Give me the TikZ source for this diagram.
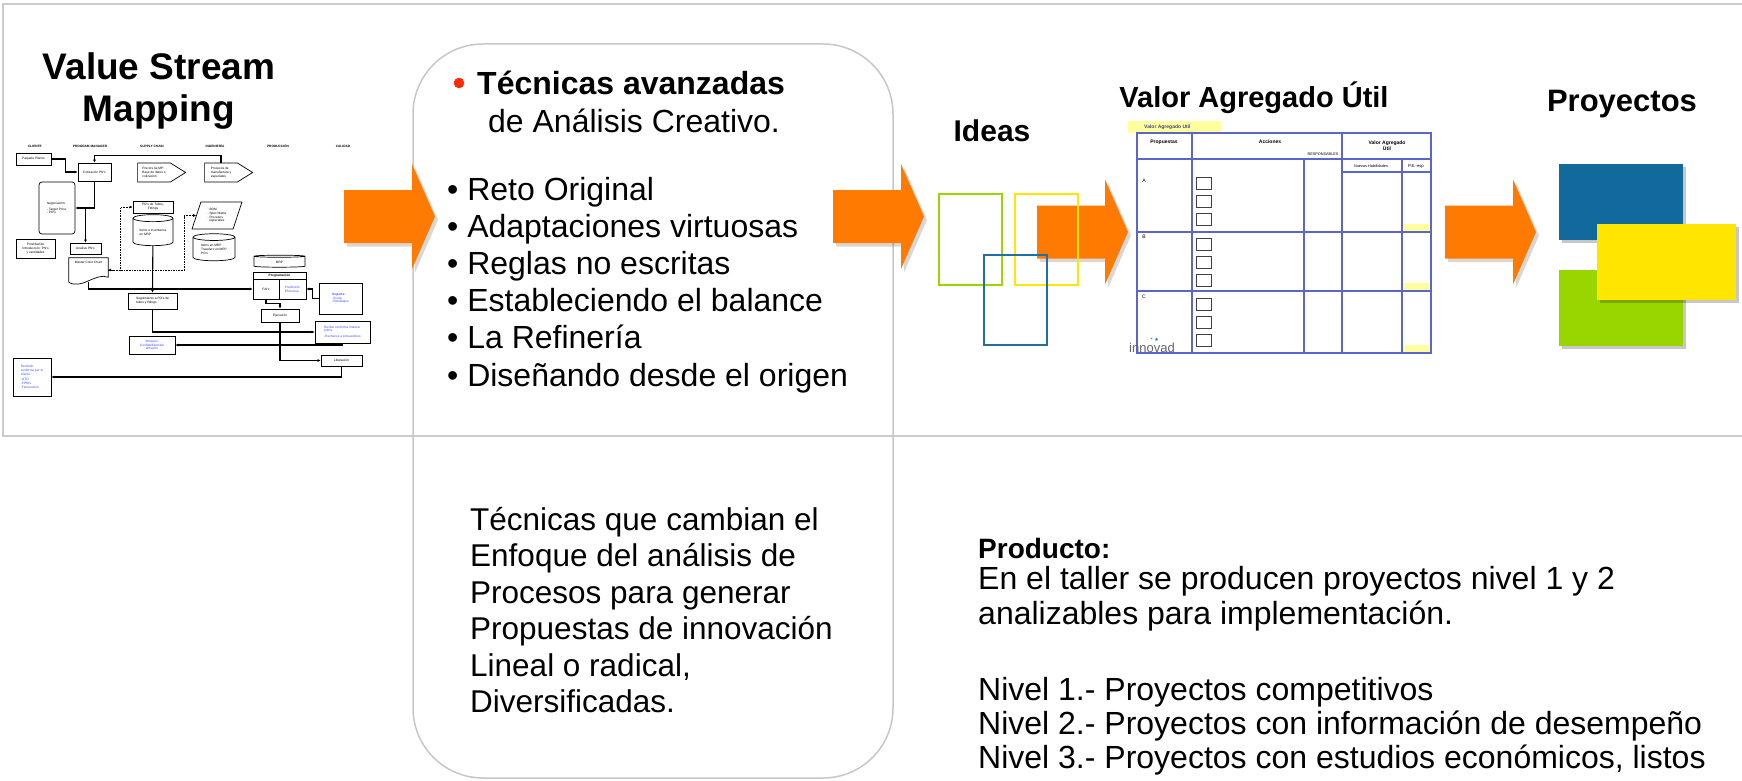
\documentclass[tikz,border=0pt]{standalone}
\usepackage{fontspec}
\setmainfont{Liberation Sans}
\newfontfamily\simbolos{DejaVu Sans}
\usepackage{tikz}
\usetikzlibrary{arrows.meta, calc, positioning, shapes.geometric, shapes.symbols}
\tikzset{>=stealth}
\usepackage{xcolor}
\definecolor{naranja}{HTML}{FF7A00}
\definecolor{azulproy}{HTML}{11699C}
\definecolor{verdeproy}{HTML}{99D600}
\definecolor{amarilloproy}{HTML}{FFE600}
\definecolor{azulidea}{HTML}{1F6FA3}
\definecolor{azultabla}{HTML}{5A66C8}
\definecolor{amarillotabla}{HTML}{FFFF9E}
\definecolor{azultexto}{HTML}{3D4DFF}
\definecolor{rojobala}{HTML}{FF2A00}

\newcommand{\textogrande}{\fontsize{32}{37}\selectfont}
\newcommand{\textomedio}{\fontsize{31.5}{37}\selectfont}
\newcommand{\textovsm}{\fontsize{3.2}{3.7}\selectfont}
\newcommand{\textotabla}{\fontsize{5}{6}\selectfont}

\tikzset{
  marcogris/.style={draw=black!20, line width=2pt},
  cajaredonda/.style={draw=black!22, line width=1.5pt, fill=white, rounded corners=70pt},
  texto/.style={font=\textogrande, inner sep=0pt, anchor=base west},
  titulo/.style={font=\fontsize{37}{42}\selectfont\bfseries, inner sep=0pt, anchor=base},
  subtitulo/.style={font=\fontsize{30}{36}\selectfont\bfseries, inner sep=0pt, anchor=base},
  vsmcaja/.style={draw, line width=0.7pt, inner sep=0.6pt, font=\textovsm, align=left},
  vsmazul/.style={vsmcaja, text=azultexto},
  vsmcabecera/.style={font=\textovsm\bfseries, inner sep=0pt},
  vsmflecha/.style={line width=1.1pt, >={Latex[length=3pt,width=3pt]}, ->},
  vsmpunteada/.style={line width=1pt, dash pattern=on 1.6pt off 1pt, >={Latex[length=3pt,width=3pt]}},
  lineatabla/.style={draw=azultabla, line width=1.3pt},
  casilla/.style={draw=black!75, line width=1pt},
  idea/.style={line width=2pt},
  pics/flecha/.style={code={
    \fill[black!60!brown, opacity=0.2] (3,3.5) ++(0,-26.5) -- ++(68,0) -- ++(0,-26) -- ++(23,52.5) -- ++(-23,52.5) -- ++(0,-26) -- ++(-68,0) -- cycle;
    \fill[naranja] (0,-26.5) -- ++(68,0) -- ++(0,-26) -- ++(23,52.5) -- ++(-23,52.5) -- ++(0,-26) -- ++(-68,0) -- cycle;
  }}
}

\begin{document}
\begin{tikzpicture}[x=1pt, y=-1pt]
\useasboundingbox (0,0) rectangle (1742,781);
\fill[white] (0,0) rectangle (1742,781);

% caja central y marco
\draw[cajaredonda] (413,44) rectangle (893,778);
\draw[marcogris] (1746,4) -- (3,4) -- (3,436) -- (1746,436);

% titulos
\node[titulo] (vsm1) at (159,80) {Value Stream};
\node[titulo] (vsm2) at (159,122) {Mapping};
\node[subtitulo] (ideas) at (992,142) {Ideas};
\node[subtitulo, font=\fontsize{29}{34}\selectfont\bfseries] (valor) at (1254,108) {Valor Agregado Útil};
\node[subtitulo, font=\fontsize{31}{36}\selectfont\bfseries] (proyectos) at (1622,112) {Proyectos};

% mapa de flujo en miniatura
\foreach \px/\etq [count=\i] in {35/CLIENTE, 90/PROGRAM MANAGER, 152/SUPPLY CHAIN, 215/INGENIERÍA, 278/PRODUCCIÓN, 343/CALIDAD}
  \node[vsmcabecera] (cab\i) at (\px,146) {\etq};
\node[vsmcaja, minimum width=35, minimum height=12] (vpaquete) at (33.5,159) {Paquete Planos};
\node[vsmcaja, minimum width=33, minimum height=18] (vcotiz) at (94.5,172) {Cotización PN's};
\node[vsmcaja, signal, signal to=east, signal pointer angle=64, minimum width=48, minimum height=19] (vprecios) at (154,172.5) {Precios de MP:\\Base de datos o\\cotización};
\node[vsmcaja, signal, signal to=east, signal pointer angle=64, minimum width=48, minimum height=19] (vprocesos) at (221,172.5) {Procesos de\\manufactura y\\especiales};
\node[vsmcaja, rounded corners=3pt, minimum width=36, minimum height=52] (vnegoc) at (57,208) {Negociación:\\[2pt]- Target Price.\\- PO's};
\node[vsmcaja, align=center, minimum width=40, minimum height=12] (vpotubos) at (153,207) {PO's de Tubos,\\Fittings};
\node[vsmcaja, cylinder, shape border rotate=90, aspect=0.25, minimum width=40, minimum height=31] (vitems) at (153,232.5) {Items e inventarios\\en MRP};
\node[vsmcaja, trapezium, trapezium left angle=70, trapezium right angle=110, trapezium stretches=true, minimum width=50, minimum height=27] (vbom) at (217,215.5) {- BOM\\- Spec Matrix\\- Procesos\\\ \ especiales};
\node[vsmcaja, cylinder, shape border rotate=90, aspect=0.25, minimum width=42, minimum height=27] (vitemsmrp) at (214,249.5) {Items en MRP\\Travelers en MRP\\PO's};
\node[vsmcaja, align=center, minimum width=39, minimum height=19] (vprioridad) at (35.5,248.5) {Prioridad de\\Introducción: PN's\\y cantidades};
\node[vsmcaja, minimum width=31, minimum height=11] (vanalisis) at (85.5,248.5) {Análisis PN's};
\node[font=\textovsm, inner sep=0.6pt, minimum width=39, minimum height=24, text depth=15pt] (vmaster) at (88.5,270) {Master Color Chart};
\draw[line width=0.7pt] (vmaster.south west) -- (vmaster.north west) -- (vmaster.north east) -- ($(vmaster.south east)+(0,-5)$) .. controls +(-13,-5) and +(13,8) .. (vmaster.south west);
\node[vsmcaja, cylinder, shape border rotate=90, aspect=0.25, minimum width=51, minimum height=12, align=center] (vmrp) at (279.5,262) {MRP};
\node[vsmcaja, font=\textovsm\bfseries, align=center, minimum width=53, minimum height=7] (vprog) at (279.5,275.5) {Programación};
\node[vsmcaja, minimum width=26, minimum height=20] (vfai) at (266,289) {FAI's};
\node[vsmazul, minimum width=27, minimum height=20] (vpred) at (292.5,289) {Predicción\\Eficiencia};
\node[vsmazul, minimum width=43, minimum height=31] (vsoporte) at (340.5,298.5) {\textbf{Soporte:}\\-Scrap\\-Retrabajos};
\node[vsmcaja, minimum width=49, minimum height=16] (vseguim) at (152.5,301) {Seguimiento a PO's de\\tubos y fittings};
\node[vsmcaja, minimum width=38, minimum height=13] (vejec) at (280,315.5) {Ejecución};
\node[vsmazul, minimum width=55, minimum height=22] (vrecibe) at (342.5,332) {Recibe conforme materia\\prima\\[2pt]-Rechazos a proveedores};
\node[vsmazul, align=center, minimum width=46, minimum height=18] (valmacen) at (152,345) {Almacén:\\Confiabilidad del\\almacén};
\node[vsmcaja, minimum width=41, minimum height=11] (vliber) at (341.5,360.5) {Liberación};
\node[vsmazul, minimum width=38, minimum height=38] (vrecibido) at (32,377) {Recibido\\conforme por el\\cliente:\\[2pt]-OTD\\-PPM's\\-Facturación};

\draw[vsmflecha] (vpaquete.east) -- ++(14,0) |- (vcotiz.west);
\draw[vsmflecha] (vprocesos.north) -- ++(0,-7) -| (vcotiz.north);
\draw[vsmflecha] (vcotiz.south) |- (vnegoc.east);
\draw[vsmflecha] ($(vcotiz.south)+(0,27)$) -| (vanalisis.north);
\draw[vsmpunteada, <->] (vmaster.east) -- ++(12,0) |- (vpotubos.west);
\draw[vsmpunteada, ->] (vmaster.east) -| ($(vbom.west)+(-12,0)$) -- (vbom.west);
\draw[vsmflecha] (vitems) -- (vseguim.north);
\draw[vsmflecha] (vmaster.south) |- (vfai.west);
\draw[vsmflecha] (vseguim.south) |- (vrecibe.west);
\draw[vsmflecha] (vrecibe.south) |- (valmacen.east);
\draw[vsmflecha] (vfai.south) -- ++(0,4) -| (vejec.north);
\draw[vsmflecha] (vsoporte.west) -- ++(-6,0) |- (vpred.east);
\draw[vsmflecha] (vejec.south) |- (vliber.west);
\draw[vsmflecha] (vliber.south) |- (vrecibido.east);

% flechas naranjas
\pic at (344,216.5) {flecha};
\pic at (833,216.5) {flecha};
\pic at (1037,232) {flecha};
\pic at (1445,232) {flecha};

% texto de la caja central
\fill[rojobala] (459,83) circle (5.3);
\node[texto, font=\textogrande\bfseries] (tecnicas) at (477,95) {Técnicas avanzadas};
\node[texto] (creativo) at (488,132) {de Análisis Creativo.};
\foreach \txt [count=\i] in {Reto Original, Adaptaciones virtuosas, Reglas no escritas, Estableciendo el balance, La Refinería, Diseñando desde el origen}
  \node[texto] (tec\i) at (447,200+37.2*\i-37.2) {• \txt};
\foreach \txt [count=\i] in {Técnicas que cambian el, Enfoque del análisis de, Procesos para generar, Propuestas de innovación, {Lineal o radical,}, Diversificadas.}
  \node[texto, font=\textomedio] (desc\i) at (470,530+36.5*\i-36.5) {\txt};

% ideas
\draw[idea, verdeproy] (939,194) rectangle (1002,285);
\draw[idea, amarilloproy] (1015,194) rectangle (1078,285);
\draw[idea, azulidea] (984,255) rectangle (1047,345);

% tabla de valor agregado
\fill[amarillotabla] (1128,121) rectangle (1221,133);
\node[font=\textotabla\bfseries, text=azultabla!70!black, anchor=west, inner sep=0pt] (etiqueta) at (1144,127) {Valor Agregado Util};
\foreach \y in {224,283,345}
  \fill[amarillotabla] (1402,\y) rectangle (1431,\y+8);
\draw[lineatabla] (1137,133) rectangle (1431,353);
\draw[lineatabla] (1137,159) -- (1431,159) (1137,232) -- (1431,232) (1137,291) -- (1431,291) (1342,172) -- (1431,172);
\draw[lineatabla] (1192,133) -- (1192,353) (1342,133) -- (1342,353) (1304,159) -- (1304,353) (1402,159) -- (1402,353);
\node[font=\textotabla\bfseries] (propuestas) at (1164,142) {Propuestas};
\node[font=\textotabla\bfseries] (acciones) at (1270,142) {Acciones};
\node[font=\fontsize{3.8}{4}\selectfont] (responsables) at (1323,154) {RESPONSABLES};
\node[font=\textotabla\bfseries, align=center] (vautil) at (1387,146) {Valor Agregado\\Útil};
\node[font=\fontsize{3.8}{4}\selectfont] (habilidades) at (1371,166) {Nuevas Habilidades};
\node[font=\fontsize{4.2}{5}\selectfont] (peesp) at (1416,166) {P.E.-esp};
\foreach \y/\letra in {181/A, 237/B, 297/C}
  \node[font=\textotabla] (fila\letra) at (1144,\y) {\letra};
\foreach \y in {177,238,298}
  \foreach \d in {0,18,36}
    \draw[casilla] (1196,\y+\d) rectangle ++(15,12);
\node[font=\fontsize{13}{13}\selectfont, text=black!60, anchor=base west, inner sep=0pt] (logo) at (1129,352) {innovad};
\node[font=\simbolos\fontsize{5}{5}\selectfont, text=azulproy, inner sep=0pt] (estrellas) at (1153,340) {· * ★};

% proyectos
\foreach \c/\xa/\ya/\xb/\yb in {azulproy/1559/164/1683/240, verdeproy/1559/270/1683/346, amarilloproy/1597/224/1736/300} {
  \fill[black, opacity=0.22] (\xa+3,\ya+3) rectangle (\xb+3,\yb+3);
  \fill[\c] (\xa,\ya) rectangle (\xb,\yb);
}

% producto
\node[texto, font=\fontsize{28}{33}\selectfont\bfseries] (producto) at (978,558) {Producto:};
\node[texto] (prod1) at (978,589) {En el taller se producen proyectos nivel 1 y 2};
\node[texto] (prod2) at (978,624) {analizables para implementación.};
\node[texto] (nivel1) at (978,700) {Nivel 1.- Proyectos competitivos};
\node[texto] (nivel2) at (978,734) {Nivel 2.- Proyectos con información de desempeño};
\node[texto] (nivel3) at (978,768) {Nivel 3.- Proyectos con estudios económicos, listos};
\end{tikzpicture}
\end{document}
